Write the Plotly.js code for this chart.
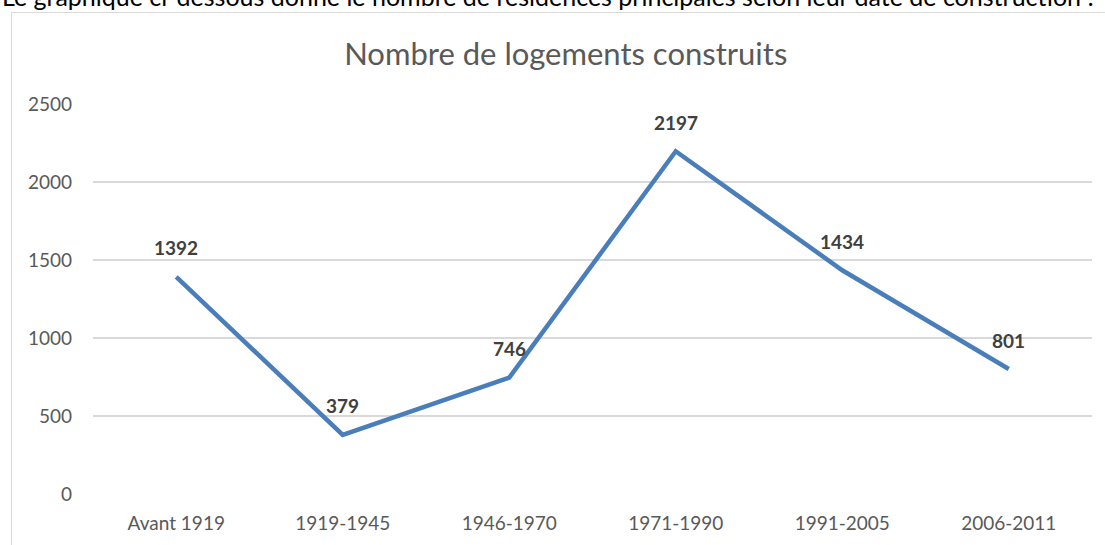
<!DOCTYPE html>
<html><head><meta charset="utf-8">
<script src="https://cdn.plot.ly/plotly-3.0.1.min.js"></script>
<style>
html,body{margin:0;padding:0;background:#fff;overflow:hidden;}
#wrap{position:relative;width:1105px;height:545px;overflow:hidden;}
#chart{position:absolute;left:0;top:0;width:1105px;height:545px;}
#frame{position:absolute;left:11px;top:12px;width:1110px;height:560px;border:1.5px solid #d9d9d9;pointer-events:none;}
#intro{position:absolute;left:2px;top:-16px;line-height:25px;font-family:Lato,'Open Sans',sans-serif;font-size:25px;color:#000;white-space:nowrap;}
</style></head>
<body><div id="wrap">
<div id="intro">Le graphique ci-dessous donne le nombre de résidences principales selon leur date de construction :</div>
<div id="chart"></div>
<div id="frame"></div>
</div>
<script>
const categories = ["Avant 1919","1919-1945","1946-1970","1971-1990","1991-2005","2006-2011"];
const values = [1392, 379, 746, 2197, 1434, 801];
const yTicks = [0, 500, 1000, 1500, 2000, 2500];
const titleText = "Nombre de logements construits";

const font = "Lato, 'Open Sans', sans-serif";
const trace = {
  x: categories, y: values, type: "scatter", mode: "lines",
  line: {color: "#4a7ebb", width: 4.5, shape: "linear"},
  hoverinfo: "x+y"
};
const annotations = categories.map((c, i) => ({
  x: c, y: values[i], xref: "x", yref: "y", text: "<b>" + values[i] + "</b>",
  showarrow: false, yshift: 29, font: {family: font, size: 19, color: "#404040"}
}));
const layout = {
  width: 1105, height: 545,
  margin: {l: 93, r: 13, t: 104, b: 51},
  paper_bgcolor: "rgba(0,0,0,0)", plot_bgcolor: "rgba(0,0,0,0)",
  showlegend: false,
  title: {text: titleText, x: 0.512, xanchor: "center", y: 0.9, yanchor: "middle", yref: "container",
          font: {family: font, size: 31, color: "#595959"}},
  xaxis: {type: "category", showgrid: false, zeroline: false, showline: false, ticks: "",
          ticklabelstandoff: 16,
          tickfont: {family: font, size: 19, color: "#595959"}, range: [-0.5, 5.5], fixedrange: true},
  yaxis: {range: [0, 2500], tickvals: yTicks, ticktext: yTicks.map(String), showgrid: true,
          gridcolor: "#d9d9d9", gridwidth: 1.5, zeroline: false, showline: false, ticks: "",
          ticklabelstandoff: 20,
          tickfont: {family: font, size: 19, color: "#595959"}, fixedrange: true},
  annotations: annotations
};
Plotly.newPlot("chart", [trace], layout, {displayModeBar: false, staticPlot: true});
</script>
</body></html>
